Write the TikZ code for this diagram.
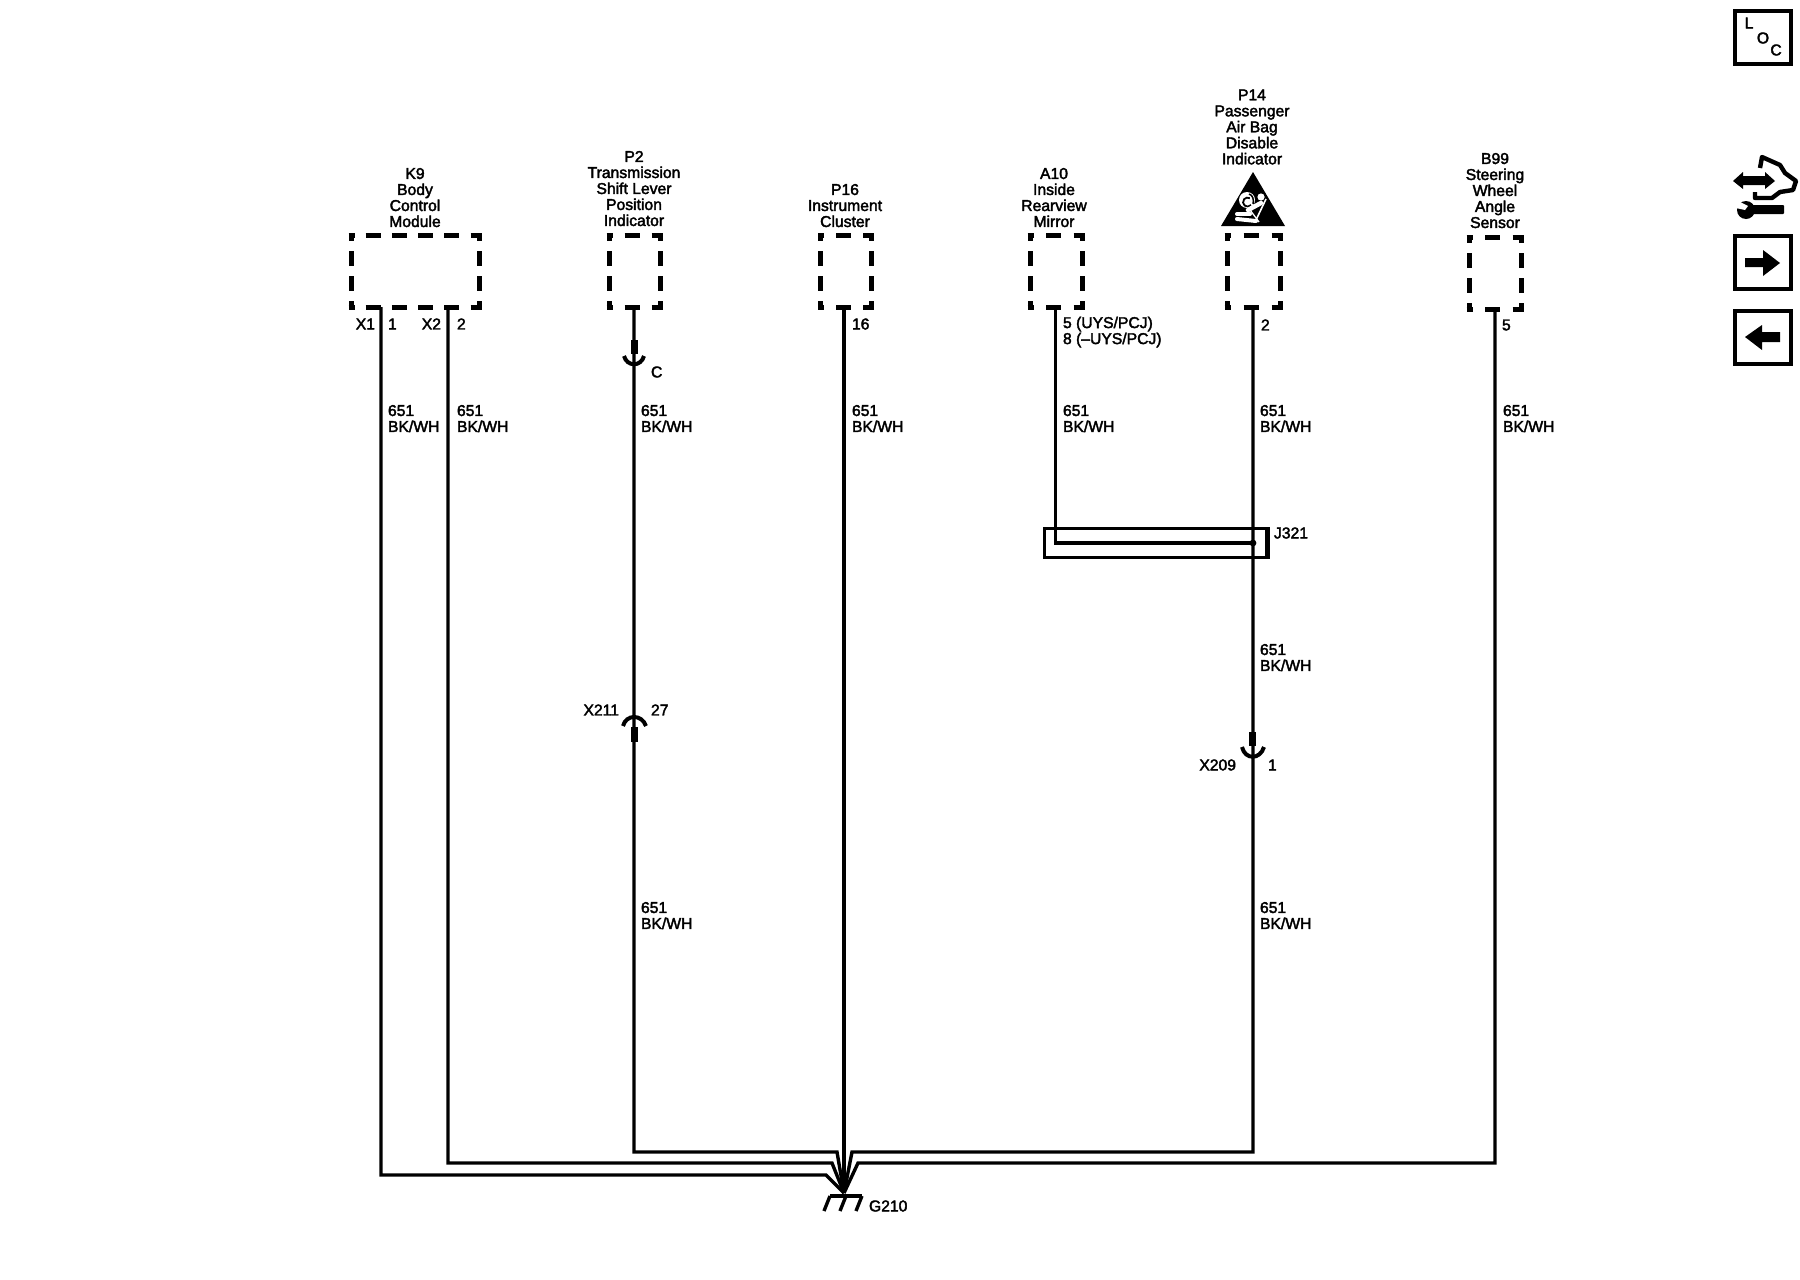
\documentclass[tikz,border=0pt]{standalone}
\usepackage{fontspec}
\setmainfont{Liberation Sans}[FakeBold=2.4]
\tikzset{
  x=1pt,y=-1pt,
  wire/.style={draw=black,line width=3.4pt,line join=miter,line cap=butt},
  lbl/.style={inner sep=0pt,outer sep=0pt,font=\fontsize{15.7}{16}\selectfont,text=black},
  title/.style={lbl,anchor=north,align=center},
  wlab/.style={lbl,anchor=north west,align=left},
  pin/.style={lbl,anchor=west},
  pinr/.style={lbl,anchor=east},
  frame/.style={draw=black,line width=4pt,fill=white},
  stub/.style={draw=black,line width=7pt},
  cup/.style={draw=black,line width=4pt},
  anchorbox/.style={draw=none,inner sep=0pt,outer sep=0pt,rectangle},
}
% dashed component box: name, cx, cy, w, h, dashes across
\newcommand{\dbox}[6]{%
  \node[anchorbox,minimum width=#4pt,minimum height=#5pt] (#1) at (#2,#3) {};
  \pgfmathsetmacro{\gapH}{(#4-12-15*#6)/(#6+1)}%
  \pgfmathsetmacro{\gapV}{(#5-12-30)/3}%
  \draw[black,line width=5pt,line cap=butt,dash pattern=on 15pt off \gapH pt,dash phase=9pt]
     ([xshift=-2.5pt]#1.north west) -- ([xshift=2.5pt]#1.north east);
  \draw[black,line width=5pt,line cap=butt,dash pattern=on 15pt off \gapH pt,dash phase=9pt]
     ([xshift=-2.5pt]#1.south west) -- ([xshift=2.5pt]#1.south east);
  \draw[black,line width=5pt,line cap=butt,dash pattern=on 15pt off \gapV pt,dash phase=9pt]
     (#1.north west) -- (#1.south west);
  \draw[black,line width=5pt,line cap=butt,dash pattern=on 15pt off \gapV pt,dash phase=9pt]
     (#1.north east) -- (#1.south east);
}
\begin{document}
\begin{tikzpicture}
\useasboundingbox (0,0) rectangle (1800,1280);

% component boxes
\dbox{k9}{415}{271}{128}{72}{4}
\dbox{ptwo}{634.5}{271}{51}{72}{1}
\dbox{psixteen}{846}{271}{51}{72}{1}
\dbox{aten}{1056}{271}{52}{72}{1}
\dbox{pfourteen}{1253.5}{271}{53}{72}{1}
\dbox{bnn}{1495}{273}{52}{72}{1}

% titles
\node[title] (tk9) at (415,168) {K9\\Body\\Control\\Module};
\node[title] (tp2) at (634,151) {P2\\Transmission\\Shift Lever\\Position\\Indicator};
\node[title] (tp16) at (845,184) {P16\\Instrument\\Cluster};
\node[title] (ta10) at (1054,168) {A10\\Inside\\Rearview\\Mirror};
\node[title] (tp14) at (1252,89.5) {P14\\Passenger\\Air Bag\\Disable\\Indicator};
\node[title] (tb99) at (1495,153) {B99\\Steering\\Wheel\\Angle\\Sensor};

% ground point and bus levels
\coordinate (g) at (844,1193);
\coordinate (k9a) at (381,307);
\coordinate (k9b) at (448,307);
\coordinate (p2w) at (634,307);
\coordinate (a10w) at (1055.5,307);
\coordinate (p14w) at (1253,307);
\coordinate (b99w) at (1495,309);
\coordinate (p16w) at (844,307);
\coordinate (j321) at (1253,543);

% splice pack
\node[draw=black,line width=3pt,minimum width=224pt,minimum height=29pt,inner sep=0pt,outer sep=0pt] (jbox) at (1156,542.5) {};
\draw[black,line width=5pt] ([xshift=-0.5pt]jbox.north east) -- ([xshift=-0.5pt]jbox.south east);

% connectors
\draw[wire] (k9a) -- (381,1175) -- (826,1175) -- (g);
\draw[wire] (k9b) -- (448,1163) -- (832,1163) -- (g);
\draw[wire] (p2w) -- (634,1152) -- (837,1152) -- (g);
\draw[wire] (p16w) -- (g);
\draw[wire] (p14w) -- (1253,1152) -- (852,1152) -- (g);
\draw[wire] (b99w) -- (1495,1163) -- (858,1163) -- (g);
\draw[wire] (a10w) -- (1055.5,543) -- (j321);
\fill[black] (j321) circle (3.4);

% ground symbol
\coordinate (g1) at (830,1196);
\coordinate (g2) at (846,1196);
\coordinate (g3) at (862,1196);
\draw[black,line width=3.4pt,line cap=butt] (g1) -- (g3);
\draw[black,line width=3.4pt] (g1) -- (824,1211);
\draw[black,line width=3.4pt] (g2) -- (840,1211);
\draw[black,line width=3.4pt] (g3) -- (856,1211);
\node[pin] (lg) at (869,1206) {G210};

% inline connectors
\coordinate (cC) at (634,340);
\draw[stub] (cC) -- (634,354);
\draw[cup] (624,356) .. controls (627,367) and (641,367) .. (644,356);
\node[pin] (lC) at (651,372) {C};

\coordinate (cX211) at (634,742);
\draw[stub] (cX211) -- (634,727);
\draw[cup] (623,726) .. controls (626,714) and (642,714) .. (646,726);
\node[pinr] (lX211) at (619,710) {X211};
\node[pin] (l27) at (651,710) {27};

\coordinate (cX209) at (1252.5,732);
\draw[stub] (cX209) -- (1252.5,746);
\draw[cup] (1242,747) .. controls (1245,760) and (1260,760) .. (1264,747);
\node[pinr] (lX209) at (1236,765) {X209};
\node[pin] (l1b) at (1268,765) {1};

% pin labels
\node[pinr] (px1) at (375,324) {X1};
\node[pin] (p1) at (388,324) {1};
\node[pinr] (px2) at (441,324) {X2};
\node[pin] (p2) at (457,324) {2};
\node[pin] (p16) at (852,324) {16};
\node[pin] (pa10a) at (1063,324) {5 (UYS/PCJ)};
\node[pin] (pa10b) at (1063,340) {8 (–UYS/PCJ)};
\node[pin] (pp14) at (1261,325) {2};
\node[pin] (pb99) at (1502,325) {5};
\node[pin] (lj) at (1274,533) {J321};

% wire labels
\node[wlab] (w1) at (388,405) {651\\BK/WH};
\node[wlab] (w2) at (457,405) {651\\BK/WH};
\node[wlab] (w3) at (641,405) {651\\BK/WH};
\node[wlab] (w4) at (852,405) {651\\BK/WH};
\node[wlab] (w5) at (1063,405) {651\\BK/WH};
\node[wlab] (w6) at (1260,405) {651\\BK/WH};
\node[wlab] (w7) at (1503,405) {651\\BK/WH};
\node[wlab] (w8) at (1260,644) {651\\BK/WH};
\node[wlab] (w9) at (641,902) {651\\BK/WH};
\node[wlab] (w10) at (1260,902) {651\\BK/WH};

% air bag warning triangle
\fill[black] (1253,172) -- (1285,226) -- (1221,226) -- cycle;
\fill[white] (1247,200) circle (8);
\draw[black,line width=1.8pt] (1251,205) arc (40:300:4.5);
\draw[black,line width=1.5pt] (1249,194) .. controls (1253,195) and (1254,200) .. (1253,204);
\fill[white] (1261,197) circle (3.6);
\draw[white,line width=4.5pt,line cap=round] (1248,210) -- (1261,203);
\draw[white,line width=4pt,line cap=round] (1237,214) -- (1250,214);
\draw[white,line width=4pt,line cap=round] (1237,219) -- (1256,221);
\draw[white,line width=1.6pt] (1266,199) -- (1256,220);
\draw[white,line width=1.3pt] (1250,210) -- (1259,222);

% right-hand icons
\node[frame,minimum width=56pt,minimum height=53pt,inner sep=0pt] (loc) at (1762.5,37) {};
\node[lbl] (locL) at (1749,23) {L};
\node[lbl] (locO) at (1763,38) {O};
\node[lbl] (locC) at (1776,50) {C};

\node[frame,minimum width=56pt,minimum height=53pt,inner sep=0pt] (nextb) at (1762.5,262) {};
\fill[black] (1745,258) -- (1763,258) -- (1763,250) -- (1780,263) -- (1763,276) -- (1763,267) -- (1745,267) -- cycle;
\node[frame,minimum width=56pt,minimum height=53pt,inner sep=0pt] (prevb) at (1762.5,337) {};
\fill[black] (1780,332) -- (1762,332) -- (1762,325) -- (1745,337) -- (1762,350) -- (1762,342) -- (1780,342) -- cycle;

% service icon
\fill[black] (1733,181) -- (1743,172) -- (1743,176) -- (1765,176) -- (1765,172) -- (1775,181) -- (1765,189) -- (1765,185) -- (1743,185) -- (1743,189) -- cycle;
\draw[black,line width=4.4pt,line join=round] (1760,168) -- (1762,157) -- (1771,161) -- (1780,165) -- (1785,173) -- (1796,181) -- (1793,190) -- (1780,192) -- (1772,198) -- (1755,198) -- (1755,192);
\fill[black,rounded corners=1pt] (1748,205) rectangle (1784,214);
\fill[black] (1746,210) circle (9);
\fill[white] (1738,201) -- (1748,206) -- (1745,210) -- (1736,208) -- cycle;
\end{tikzpicture}
\end{document}
